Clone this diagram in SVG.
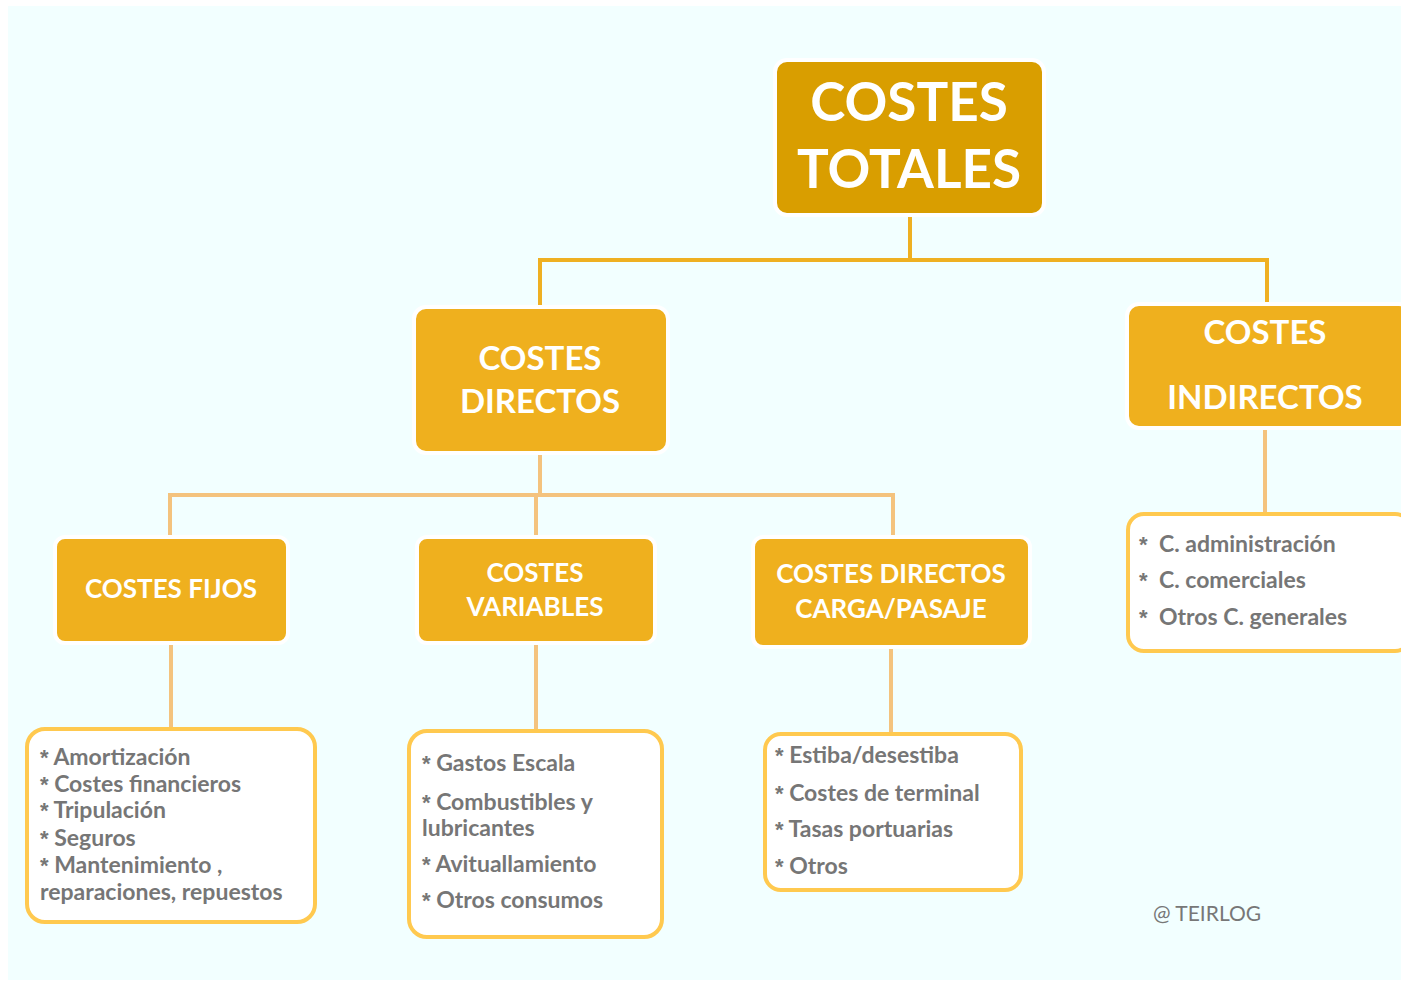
<svg xmlns="http://www.w3.org/2000/svg" width="1401" height="982" viewBox="0 0 1401 982">
<style>
.bg{fill:#F2FFFF}
.hdr{stroke:#FFFFFF;stroke-width:4}
.dark{fill:#D99E00}
.gold{fill:#EFB01E}
.t{font-family:Lato,"Liberation Sans",sans-serif;font-weight:bold;fill:#FFFFFF;text-anchor:middle}
.list{fill:#FFFFFF;stroke:#FFC94F;stroke-width:4}
.li{font-family:Lato,"Liberation Sans",sans-serif;font-weight:bold;fill:#767676;font-size:23px}
.a{font-family:"Liberation Sans",sans-serif;font-size:22px}
.c1{fill:none;stroke:#EFB022;stroke-width:4}
.c2{fill:none;stroke:#F4C37E;stroke-width:4}
</style>
<rect x="0" y="0" width="1401" height="982" fill="#FFFFFF"/>
<rect class="bg" x="8" y="6" width="1393" height="974"/>
<g id="connectors">
<path class="c1" d="M910 215 V260 M540 308 V260 H1267 V305"/>
<path class="c2" d="M540 453 V495 M170 538 V495 H893 V538 M536 495 V538"/>
<path class="c2" d="M171 643 V729 M536 643 V731 M891 647 V734 M1265 428 V514"/>
</g>
<g id="costes-totales">
<rect class="dark hdr" x="775" y="60" width="269" height="155" rx="12"/>
<text class="t" x="909" y="121" font-size="53">COSTES</text>
<text class="t" x="909" y="188" font-size="53">TOTALES</text>
</g>
<g id="costes-directos">
<rect class="gold hdr" x="414" y="307" width="254" height="146" rx="12"/>
<text class="t" x="540" y="370" font-size="33">COSTES</text>
<text class="t" x="540" y="413" font-size="33">DIRECTOS</text>
</g>
<g id="costes-indirectos">
<rect class="gold hdr" x="1127" y="304" width="284" height="124" rx="12"/>
<text class="t" x="1265" y="344" font-size="33">COSTES</text>
<text class="t" x="1265" y="409" font-size="33">INDIRECTOS</text>
</g>
<g id="costes-fijos">
<rect class="gold hdr" x="55" y="537" width="233" height="106" rx="10"/>
<text class="t" x="171" y="598" font-size="26">COSTES FIJOS</text>
</g>
<g id="costes-variables">
<rect class="gold hdr" x="417" y="537" width="238" height="106" rx="10"/>
<text class="t" x="535" y="582" font-size="26">COSTES</text>
<text class="t" x="535" y="616" font-size="26">VARIABLES</text>
</g>
<g id="costes-carga">
<rect class="gold hdr" x="753" y="537" width="277" height="110" rx="10"/>
<text class="t" x="891" y="583" font-size="26">COSTES DIRECTOS</text>
<text class="t" x="891" y="618" font-size="26">CARGA/PASAJE</text>
</g>
<g id="lista-fijos">
<rect class="list" x="27" y="729" width="288" height="193" rx="18"/>
<text class="li" x="40" y="765"><tspan class="a">*</tspan> Amortización</text>
<text class="li" x="40" y="792"><tspan class="a">*</tspan> Costes financieros</text>
<text class="li" x="40" y="818"><tspan class="a">*</tspan> Tripulación</text>
<text class="li" x="40" y="846"><tspan class="a">*</tspan> Seguros</text>
<text class="li" x="40" y="873"><tspan class="a">*</tspan> Mantenimiento ,</text>
<text class="li" x="40" y="900">reparaciones, repuestos</text>
</g>
<g id="lista-variables">
<rect class="list" x="409" y="731" width="253" height="206" rx="18"/>
<text class="li" x="422" y="771"><tspan class="a">*</tspan> Gastos Escala</text>
<text class="li" x="422" y="810"><tspan class="a">*</tspan> Combustibles y</text>
<text class="li" x="422" y="836">lubricantes</text>
<text class="li" x="422" y="872"><tspan class="a">*</tspan> Avituallamiento</text>
<text class="li" x="422" y="908"><tspan class="a">*</tspan> Otros consumos</text>
</g>
<g id="lista-carga">
<rect class="list" x="765" y="734" width="256" height="156" rx="16"/>
<text class="li" x="775" y="763"><tspan class="a">*</tspan> Estiba/desestiba</text>
<text class="li" x="775" y="801"><tspan class="a">*</tspan> Costes de terminal</text>
<text class="li" x="775" y="837"><tspan class="a">*</tspan> Tasas portuarias</text>
<text class="li" x="775" y="874"><tspan class="a">*</tspan> Otros</text>
</g>
<g id="lista-indirectos">
<rect class="list" x="1128" y="514" width="283" height="137" rx="16"/>
<text class="li a" x="1139" y="552">*</text><text class="li" x="1159" y="552">C. administración</text>
<text class="li a" x="1139" y="588">*</text><text class="li" x="1159" y="588">C. comerciales</text>
<text class="li a" x="1139" y="625">*</text><text class="li" x="1159" y="625">Otros C. generales</text>
</g>
<text x="1153" y="921" font-family="Lato,'Liberation Sans',sans-serif" font-size="21" fill="#777777">@ TEIRLOG</text>
</svg>
